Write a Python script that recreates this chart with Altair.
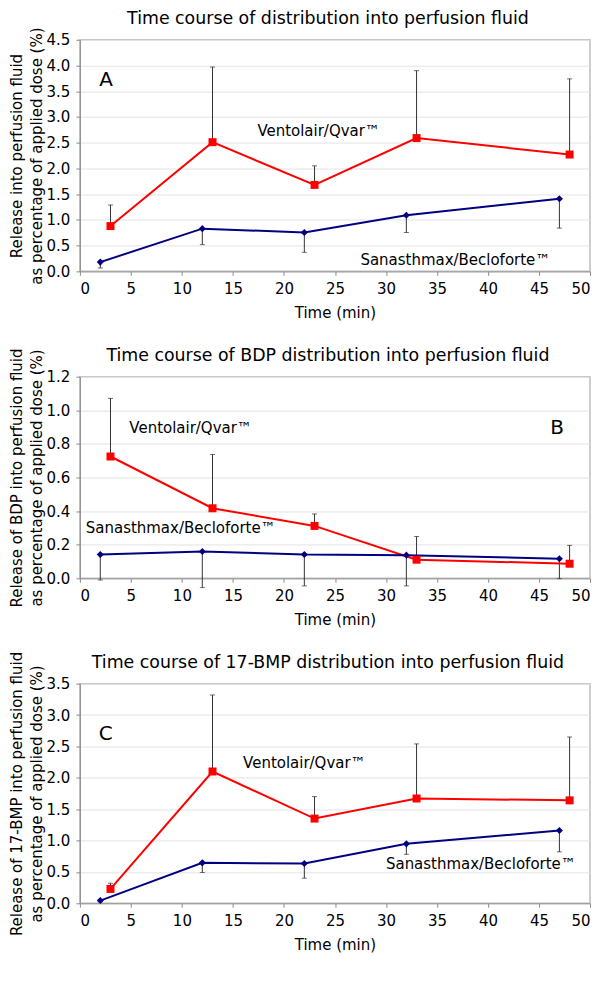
import altair as alt
import pandas as pd

# ---------------- data ----------------
series_names = ["Ventolair/Qvar™", "Sanasthmax/Becloforte™"]
time_ventolair = [3, 13, 23, 33, 48]
time_sanasthmax = [2, 12, 22, 32, 47]

# Panel A: total distribution
a_ventolair = [0.88, 2.51, 1.68, 2.59, 2.27]
a_ventolair_sd = [0.41, 1.46, 0.37, 1.31, 1.47]
a_sanasthmax = [0.18, 0.83, 0.755, 1.09, 1.41]
a_sanasthmax_sd = [0.115, 0.31, 0.385, 0.335, 0.57]

# Panel B: BDP
b_ventolair = [0.725, 0.417, 0.312, 0.111, 0.087]
b_ventolair_sd = [0.346, 0.32, 0.071, 0.138, 0.109]
b_sanasthmax = [0.142, 0.16, 0.142, 0.138, 0.117]
b_sanasthmax_sd = [0.152, 0.215, 0.187, 0.183, 0.119]

# Panel C: 17-BMP
c_ventolair = [0.229, 2.10, 1.35, 1.67, 1.64]
c_ventolair_sd = [0.09, 1.22, 0.35, 0.87, 1.01]
c_sanasthmax = [0.043, 0.644, 0.633, 0.947, 1.16]
c_sanasthmax_sd = [0.02, 0.154, 0.233, 0.167, 0.34]

panel_titles = [
    "Time course of distribution into perfusion fluid",
    "Time course of BDP distribution into perfusion fluid",
    "Time course of 17-BMP distribution into perfusion fluid",
]
y_titles = [
    ["Release into perfusion fluid", "as percentage of applied dose (%)"],
    ["Release of BDP into perfusion fluid", "as percentage of applied dose (%)"],
    ["Release of 17-BMP into perfusion fluid", "as percentage of applied dose (%)"],
]
panel_letters = ["A", "B", "C"]
x_ticks = [0, 5, 10, 15, 20, 25, 30, 35, 40, 45, 50]

FONT = "DejaVu Sans"
RED = "#ff0000"
BLUE = "#000080"
ERR = "#333333"
PLOT_W = 511


def make_panel(title, ytitle, letter, ymax, ystep, vent, vent_sd, sana, sana_sd,
               height, vent_lab, sana_lab, letter_pos):
    df_v = pd.DataFrame({"time": time_ventolair, "value": vent,
                         "err_end": [v + s for v, s in zip(vent, vent_sd)],
                         "series": series_names[0]})
    df_s = pd.DataFrame({"time": time_sanasthmax, "value": sana,
                         "err_end": [v - s for v, s in zip(sana, sana_sd)],
                         "series": series_names[1]})
    df = pd.concat([df_v, df_s], ignore_index=True)

    nt = int(round(ymax / ystep))
    y_ticks = [round(i * ystep, 2) for i in range(nt + 1)]

    x_axis = alt.Axis(values=x_ticks, title="Time (min)", grid=False, format="d",
                      tickCount=len(x_ticks) + 2, labelOverlap=False,
                      labelFlush=True)
    y_axis = alt.Axis(values=y_ticks, format=".1f", title=ytitle,
                      tickCount=len(y_ticks) + 2, labelOverlap=False,
                      labelFlush=False)
    x_scale = alt.Scale(domain=[0, 50], nice=False)
    y_scale = alt.Scale(domain=[0, ymax], nice=False)

    def X(field="time"):
        return alt.X(f"{field}:Q", scale=x_scale, axis=x_axis)

    def Y(field="value"):
        return alt.Y(f"{field}:Q", scale=y_scale, axis=y_axis)

    color = alt.Color("series:N", scale=alt.Scale(domain=series_names, range=[RED, BLUE]),
                      legend=None)

    base = alt.Chart(df)
    rules = base.mark_rule(color=ERR, strokeWidth=1).encode(
        x=X(), y=Y(), y2="err_end:Q")
    caps = base.mark_tick(orient="horizontal", color=ERR, size=5, thickness=1).encode(
        x=X(), y=Y("err_end"))
    lines = base.mark_line(strokeWidth=2).encode(x=X(), y=Y(), color=color,
                                                 detail="series:N")
    red_pts = base.transform_filter(alt.datum.series == series_names[0]).mark_square(
        size=64, color=RED, opacity=1).encode(x=X(), y=Y())
    blue_pts = base.transform_filter(alt.datum.series == series_names[1]).mark_point(
        shape="diamond", filled=True, size=50, color=BLUE, opacity=1).encode(
        x=X(), y=Y())

    lab_df = pd.DataFrame({"time": [vent_lab[0], sana_lab[0]],
                           "value": [vent_lab[1], sana_lab[1]],
                           "t": series_names})
    labels = alt.Chart(lab_df).mark_text(align="left", baseline="middle", font=FONT,
                                         fontSize=15, color="black").encode(
        x=X(), y=Y(), text="t:N")
    let_df = pd.DataFrame({"time": [letter_pos[0]], "value": [letter_pos[1]],
                           "t": [letter]})
    let = alt.Chart(let_df).mark_text(align="left", baseline="middle", font=FONT,
                                      fontSize=20, color="black").encode(
        x=X(), y=Y(), text="t:N")

    # panel heading, placed just above the plot area
    ttl = alt.Chart(pd.DataFrame({"t": [title]})).mark_text(
        align="center", baseline="middle", font=FONT, fontSize=17.4, color="black"
    ).encode(x=alt.value(PLOT_W / 2 - 7), y=alt.value(-21), text="t:N")

    return alt.layer(rules, caps, lines, red_pts, blue_pts, labels, let, ttl).properties(
        width=PLOT_W, height=height)


pA = make_panel(panel_titles[0], y_titles[0], panel_letters[0], 4.5, 0.5,
                a_ventolair, a_ventolair_sd, a_sanasthmax, a_sanasthmax_sd, 232,
                (17.4, 2.73), (27.5, 0.23), (1.9, 3.72))
pB = make_panel(panel_titles[1], y_titles[1], panel_letters[1], 1.2, 0.2,
                b_ventolair, b_ventolair_sd, b_sanasthmax, b_sanasthmax_sd, 202,
                (4.85, 0.894), (0.58, 0.297), (46.1, 0.895))
pC = make_panel(panel_titles[2], y_titles[2], panel_letters[2], 3.5, 0.5,
                c_ventolair, c_ventolair_sd, c_sanasthmax, c_sanasthmax_sd, 220,
                (16.0, 2.24), (30.0, 0.63), (1.85, 2.70))

chart = alt.vconcat(pA, pB, pC, spacing=105.5, bounds="flush").properties(
    padding={"left": 0, "top": 0, "right": 0, "bottom": 2}
).configure(font=FONT).configure_view(
    stroke="#bdbdbd", strokeWidth=1.5
).configure_axis(
    labelFont=FONT, labelFontSize=15, labelColor="black",
    titleFont=FONT, titleFontSize=15, titleColor="black", titleFontWeight="normal",
    domainColor="#8c8c8c", tickColor="#8c8c8c", tickSize=4,
    gridColor="#e3e3e3",
).configure_axisY(
    titlePadding=2, titleLineHeight=20, labelPadding=6,
).configure_axisX(
    titlePadding=9.5, labelPadding=6,
)

chart.save("out.html", embed_options={"renderer": "svg", "actions": False})
